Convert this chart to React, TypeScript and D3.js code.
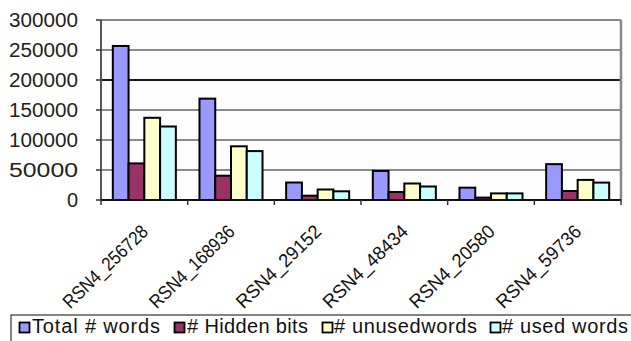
import React from "react";
import * as d3 from "d3";

const categories = ["RSN4_256728", "RSN4_168936", "RSN4_29152", "RSN4_48434", "RSN4_20580", "RSN4_59736"];
const seriesNames = ["Total # words", "# Hidden bits", "# unusedwords", "# used words"];
const totalWords = [256728, 168936, 29152, 48434, 20580, 59736];
const hiddenBits = [61000, 40500, 7200, 13300, 4000, 15000];
const unusedWords = [137000, 89500, 17500, 27500, 11000, 33500];
const usedWords = [122500, 81500, 14500, 22500, 11000, 29000];
const yTicks = [0, 50000, 100000, 150000, 200000, 250000, 300000];
const colors = ["#9999FF", "#993366", "#FFFFCC", "#CCFFFF"];

const W = 631;
const H = 341;
const left = 101;
const right = 621;
const top = 20;
const bottom = 200;

export default function App() {
  const series = [totalWords, hiddenBits, unusedWords, usedWords];
  const x0 = d3.scaleBand<string>().domain(categories).range([left, right]).padding(0);
  const x1 = d3
    .scaleBand<number>()
    .domain([0, 1, 2, 3])
    .range([0, x0.bandwidth()])
    .paddingInner(0)
    .paddingOuter(0.75);
  const y = d3.scaleLinear().domain([0, 300000]).range([bottom, top]);
  const font = "'Liberation Sans', Arial, sans-serif";

  const legendItems = [
    { mx: 19, tx: 32, tw: 128 },
    { mx: 174, tx: 187, tw: 121 },
    { mx: 322, tx: 334, tw: 143 },
    { mx: 490, tx: 502, tw: 126 },
  ];

  return (
    <svg
      width={W}
      height={H}
      style={{ position: "absolute", left: 0, top: 0, background: "#fff" }}
      fontFamily={font}
    >
      <rect x={0} y={0} width={W} height={H} fill="#fff" />
      <rect x={left} y={top} width={right - left} height={bottom - top} fill="#fdfdfd" />
      {yTicks.filter((t) => t > 0 && t < 300000).map((t) => (
        <line
          key={"g" + t}
          x1={left}
          x2={right}
          y1={y(t)}
          y2={y(t)}
          stroke="#1a1a1a"
          strokeWidth={t === 200000 ? 2 : 1.2}
        />
      ))}
      <line x1={left} x2={right} y1={top} y2={top} stroke="#888" strokeWidth={2} />
      <line x1={right} x2={right} y1={top} y2={bottom} stroke="#888" strokeWidth={2.5} />
      {categories.map((c, ci) => (
        <g key={c}>
          {series.map((s, si) => {
            const bx = (x0(c) as number) + (x1(si) as number);
            const by = y(s[ci]);
            return (
              <rect
                key={si}
                x={bx}
                y={by}
                width={x1.bandwidth()}
                height={bottom - by}
                fill={colors[si]}
                stroke="#000"
                strokeWidth={2}
              />
            );
          })}
        </g>
      ))}
      <line x1={left} x2={left} y1={top} y2={bottom} stroke="#555" strokeWidth={2} />
      {yTicks.map((t) => (
        <g key={"t" + t}>
          <line x1={left - 5} x2={left} y1={y(t)} y2={y(t)} stroke="#333" strokeWidth={1.5} />
          <text x={78} y={y(t) + 7} textAnchor="end" fontSize={20} textLength={t === 0 ? undefined : 69} lengthAdjust="spacingAndGlyphs" fill="#222">
            {t}
          </text>
        </g>
      ))}
      <line x1={left} x2={right} y1={bottom} y2={bottom} stroke="#111" strokeWidth={2} />
      {[...categories.map((c) => x0(c) as number), right].map((xv, i) => (
        <line key={"xt" + i} x1={xv} x2={xv} y1={bottom} y2={bottom + 5} stroke="#333" strokeWidth={1.5} />
      ))}
      {categories.map((c) => {
        const cx = (x0(c) as number) + x0.bandwidth() / 2 + 5;
        return (
          <text
            key={"xl" + c}
            transform={`translate(${cx},233) rotate(-44)`}
            textAnchor="end"
            fontSize={19}
            textLength={110}
            lengthAdjust="spacingAndGlyphs"
            fill="#111"
          >
            {c}
          </text>
        );
      })}
      <rect x={11} y={315} width={W + 10} height={40} fill="#fff" stroke="#333" strokeWidth={1.2} />
      {seriesNames.map((n, i) => (
        <g key={n}>
          <rect x={legendItems[i].mx + 0.5} y={322.5} width={10} height={10} fill={colors[i]} stroke="#000" strokeWidth={1.8} />
          <text
            x={legendItems[i].tx}
            y={333}
            fontSize={20}
            textLength={legendItems[i].tw}
            lengthAdjust="spacing"
            fill="#111"
          >
            {n}
          </text>
        </g>
      ))}
    </svg>
  );
}
